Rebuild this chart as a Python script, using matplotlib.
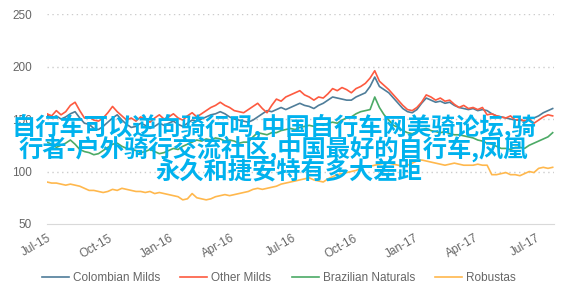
import matplotlib
matplotlib.use("Agg")
import matplotlib.pyplot as plt
import pandas as pd

# ICO indicator prices, US cents/lb, weekly readings
start_date = "2015-07-01"
series_names = ["Colombian Milds", "Other Milds", "Brazilian Naturals", "Robustas"]

colombian = [154, 151, 153, 150, 152, 155, 157, 151, 146, 145,
             141, 140, 143, 147, 151, 154, 149, 145, 142, 143,
             146, 144, 141, 143, 146, 144, 146, 148, 145, 143,
             146, 149, 148, 150, 152, 154, 155, 157, 155, 152,
             150, 149, 148, 147, 149, 152, 155, 158, 157, 159,
             161, 159, 161, 163, 165, 163, 162, 160, 163, 165,
             168, 171, 170, 169, 168, 168, 171, 173, 175, 181,
             190, 181, 178, 175, 170, 165, 160, 157, 156, 159,
             165, 170, 168, 166, 167, 165, 166, 163, 161, 160,
             159, 160, 158, 159, 158, 155, 153, 152, 151, 150,
             149, 149, 148, 150, 151, 153, 156, 158, 160]

other = [155, 153, 158, 154, 157, 163, 166, 158, 151, 152,
         149, 148, 151, 156, 162, 157, 153, 149, 151, 148,
         152, 150, 147, 151, 154, 150, 152, 155, 151, 149,
         153, 156, 152, 155, 158, 161, 163, 166, 163, 161,
         158, 157, 156, 159, 162, 165, 160, 156, 163, 169,
         167, 171, 173, 175, 177, 173, 171, 168, 171, 170,
         174, 179, 177, 180, 178, 175, 179, 181, 184, 189,
         196, 186, 182, 178, 173, 168, 163, 159, 158, 161,
         166, 173, 171, 168, 170, 167, 168, 164, 161, 163,
         160, 161, 159, 161, 154, 155, 153, 152, 151, 153,
         149, 150, 148, 150, 146, 149, 152, 154, 153]

brazilian = [128, 126, 123, 125, 127, 130, 126, 121, 119, 118,
             116, 117, 120, 123, 126, 127, 124, 122, 121, 120,
             118, 119, 121, 119, 117, 118, 120, 122, 121, 124,
             126, 128, 130, 129, 131, 130, 132, 131, 129, 130,
             129, 127, 128, 128, 133, 137, 136, 135, 137, 137,
             139, 140, 141, 140, 142, 143, 144, 143, 145, 144,
             146, 147, 146, 149, 151, 152, 155, 157, 158, 159,
             171, 161, 154, 149, 144, 142, 139, 137, 136, 138,
             140, 141, 139, 138, 137, 138, 136, 135, 135, 134,
             133, 132, 130, 129, 127, 126, 124, 122, 122, 121,
             123, 123, 122, 125, 127, 129, 131, 133, 137]

robustas = [90, 89, 89, 88, 87, 88, 87, 86, 84, 82,
            82, 81, 80, 81, 83, 82, 84, 83, 82, 81,
            81, 80, 81, 79, 80, 79, 78, 77, 76, 73,
            74, 79, 75, 74, 73, 74, 76, 77, 78, 77,
            78, 79, 80, 81, 83, 84, 83, 84, 85, 86,
            88, 89, 90, 91, 92, 93, 94, 92, 91, 90,
            93, 95, 97, 98, 99, 100, 101, 103, 105, 105,
            106, 107, 108, 108, 107, 106, 105, 106, 108, 110,
            111, 110, 109, 108, 107, 106, 107, 108, 107, 106,
            106, 106, 107, 106, 106, 97, 97, 98, 99, 97,
            97, 96, 98, 100, 99, 103, 104, 103, 104]

yticks = [50, 100, 150, 200, 250]
xtick_dates = ["2015-07-01", "2015-10-01", "2016-01-01", "2016-04-01", "2016-07-01",
               "2016-10-01", "2017-01-01", "2017-04-01", "2017-07-01"]
xtick_labels = ["Jul-15", "Oct-15", "Jan-16", "Apr-16", "Jul-16",
                "Oct-16", "Jan-17", "Apr-17", "Jul-17"]

overlay_lines = ["自行车可以逆向骑行吗,中国自行车网美骑论坛,骑",
                 "行者-户外骑行交流社区,中国最好的自行车,凤凰",
                 "永久和捷安特有多大差距"]

colors = ["#4f7d99", "#fd5a40", "#4caa66", "#ffb84d"]

dates = pd.date_range(start_date, periods=len(colombian), freq="7D")

plt.rcParams['font.family'] = ['Liberation Sans', 'DejaVu Sans']

fig = plt.figure(figsize=(5.75, 2.93), dpi=100)
ax = fig.add_axes([0.0817, 0.2355, 0.8818, 0.7165])

for vals, name, c in zip([colombian, other, brazilian, robustas], series_names, colors):
    ax.plot(dates, vals, color=c, lw=1.2, label=name)

ax.set_ylim(50, 250)
ax.set_yticks(yticks)
ax.set_xlim(pd.Timestamp("2015-07-01"), pd.Timestamp("2017-07-28"))
ax.set_xticks(pd.to_datetime(xtick_dates))
ax.set_xticklabels(xtick_labels, rotation=30, ha="right", rotation_mode="anchor")

for y in yticks[1:]:
    ax.axhline(y, color="#cccccc", lw=1, ls=(0, (1, 2.5)), zorder=0)

for s in ["top", "right", "left"]:
    ax.spines[s].set_visible(False)
ax.spines["bottom"].set_color("#d9d9d9")
ax.tick_params(axis="both", length=0, colors="#666666", labelsize=8.5)
ax.tick_params(axis="y", pad=11)
ax.tick_params(axis="x", pad=6)

fig.legend(loc="center", bbox_to_anchor=(0.485, 0.051), ncol=4, frameon=False,
           fontsize=8.5, handlelength=2.3, handletextpad=0.35, columnspacing=1.7,
           labelcolor="#666666")

# watermark text on top
ys = [0.5666, 0.4915, 0.413]
xs = [0.476, 0.476, 0.502]
for t, x, y in zip(overlay_lines, xs, ys):
    fig.text(x, y, t, ha="center", va="center", fontsize=17.5, color="#00b2ee",
             family=["Noto Sans CJK SC", "DejaVu Sans"], weight="bold", zorder=10)

fig.savefig("out.png", dpi=100)
